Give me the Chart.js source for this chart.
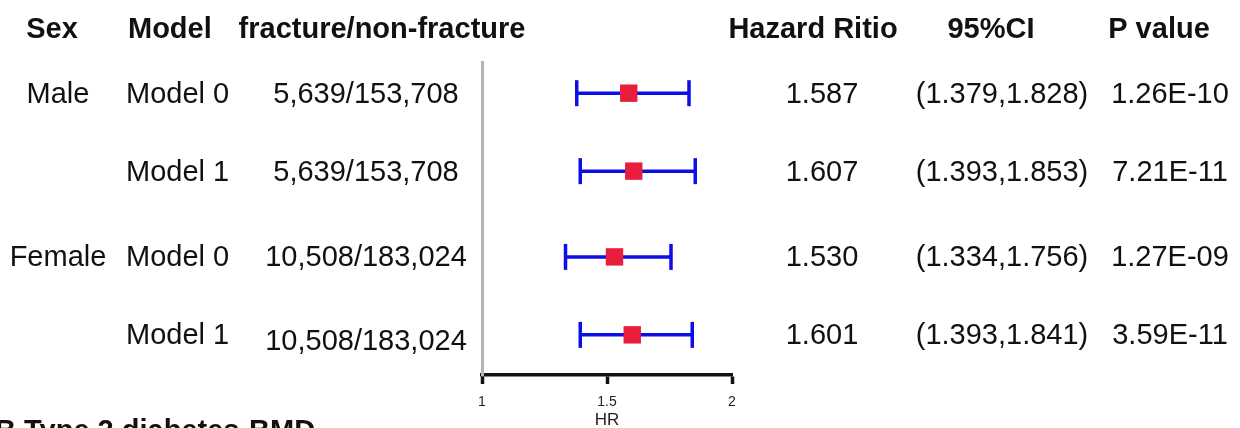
<!DOCTYPE html>
<html>
<head>
<meta charset="utf-8">
<script src="https://cdn.jsdelivr.net/npm/chart.js@4.4.1/dist/chart.umd.min.js"></script>
<style>
  html, body { margin: 0; padding: 0; background: #ffffff; }
  #wrap { width: 1240px; height: 428px; position: relative; overflow: hidden; }
  canvas { display: block; }
</style>
</head>
<body>
<div id="wrap"><canvas id="c" width="1240" height="428"></canvas></div>
<script>
// ---- data ----
const headers = ['Sex', 'Model', 'fracture/non-fracture', 'Hazard Ritio', '95%CI', 'P value'];
const sexLabels = ['Male', '', 'Female', ''];
const models = ['Model 0', 'Model 1', 'Model 0', 'Model 1'];
const counts = ['5,639/153,708', '5,639/153,708', '10,508/183,024', '10,508/183,024'];
const hr = [1.587, 1.607, 1.530, 1.601];
const ciLower = [1.379, 1.393, 1.334, 1.393];
const ciUpper = [1.828, 1.853, 1.756, 1.841];
const pValues = ['1.26E-10', '7.21E-11', '1.27E-09', '3.59E-11'];
const xTicks = [1, 1.5, 2];
const axisTitle = 'HR';
const nextPanelTitle = 'B Type 2 diabetes-BMD';

// ---- layout helpers ----
const FONT = "'Liberation Sans', Arial, Helvetica, sans-serif";
const BLUE = '#0d0de8';
const RED = '#e81e3c';
const groupGap = 0.1;
let g = -1;
const rowPos = sexLabels.map((s, i) => { if (s) g++; return i + g * groupGap; });

const ciLine = [];
rowPos.forEach((y, i) => {
  ciLine.push({x: ciLower[i], y: y}, {x: ciUpper[i], y: y}, {x: NaN, y: NaN});
});
const caps = [];
rowPos.forEach((y, i) => { caps.push({x: ciLower[i], y: y}, {x: ciUpper[i], y: y}); });
const points = rowPos.map((y, i) => ({x: hr[i], y: y}));

const tablePlugin = {
  id: 'table',
  afterDraw(chart) {
    const ctx = chart.ctx;
    const ys = chart.scales.y;
    ctx.save();
    ctx.fillStyle = '#111';
    ctx.textBaseline = 'alphabetic';
    // header
    ctx.font = 'bold 29px ' + FONT;
    const hx = [[52, 'center'], [128, 'left'], [382, 'center'], [813, 'center'], [991, 'center'], [1159, 'center']];
    headers.forEach((h, i) => { ctx.textAlign = hx[i][1]; ctx.fillText(h, hx[i][0], 38); });
    // rows
    ctx.font = '29px ' + FONT;
    rowPos.forEach((p, i) => {
      const y = ys.getPixelForValue(p) + 9.5;
      const last = i === rowPos.length - 1;
      ctx.textAlign = 'center';
      if (sexLabels[i]) ctx.fillText(sexLabels[i], 58, y);
      ctx.textAlign = 'left';
      ctx.fillText(models[i], 126, y);
      ctx.textAlign = 'center';
      ctx.fillText(counts[i], 366, y + (last ? 6 : 0));
      ctx.fillText(hr[i].toFixed(3), 822, y);
      ctx.fillText('(' + ciLower[i].toFixed(3) + ',' + ciUpper[i].toFixed(3) + ')', 1002, y);
      ctx.fillText(pValues[i], 1170, y);
    });
    // next panel title (cut off at bottom)
    ctx.font = 'bold 29px ' + FONT;
    ctx.textAlign = 'left';
    ctx.fillText(nextPanelTitle, -5, 440);
    ctx.restore();
  }
};

new Chart(document.getElementById('c'), {
  type: 'scatter',
  data: {
    datasets: [
      {
        type: 'line', data: ciLine, borderColor: BLUE, borderWidth: 3.5,
        pointRadius: 0, spanGaps: false, order: 3
      },
      {
        type: 'scatter', data: caps, pointStyle: 'line', rotation: 90, radius: 13,
        borderColor: BLUE, backgroundColor: BLUE, borderWidth: 3.5, order: 2
      },
      {
        type: 'scatter', data: points, pointStyle: 'rect', radius: 12.3,
        backgroundColor: RED, borderColor: RED, borderWidth: 0, order: 1
      }
    ]
  },
  options: {
    responsive: false,
    animation: false,
    devicePixelRatio: 1,
    layout: { padding: { left: 482, right: 508, top: 62, bottom: 0 } },
    plugins: { legend: { display: false }, tooltip: { enabled: false } },
    scales: {
      x: {
        type: 'linear', position: 'bottom', min: 1, max: 2,
        afterBuildTicks: s => { s.ticks = xTicks.map(v => ({value: v})); },
        afterFit: s => { s.height = 53; },
        ticks: { font: { size: 14, family: FONT }, color: '#222', padding: 10,
                 callback: v => String(v), maxRotation: 0, autoSkip: false },
        grid: { display: true, drawOnChartArea: false, drawTicks: true, tickLength: 9,
                tickWidth: 3.5, tickColor: '#111' },
        border: { display: true, color: '#111', width: 3.5 },
        title: { display: true, text: axisTitle, font: { size: 17, family: FONT }, color: '#222',
                 padding: { top: 0, bottom: -3 } }
      },
      y: {
        type: 'linear', reverse: true, min: -0.4, max: 3.615,
        afterFit: s => { s.width = 0; },
        ticks: { display: false },
        grid: { display: false },
        border: { display: true, color: '#b4b4b4', width: 3 }
      }
    }
  },
  plugins: [tablePlugin]
});
</script>
</body>
</html>
